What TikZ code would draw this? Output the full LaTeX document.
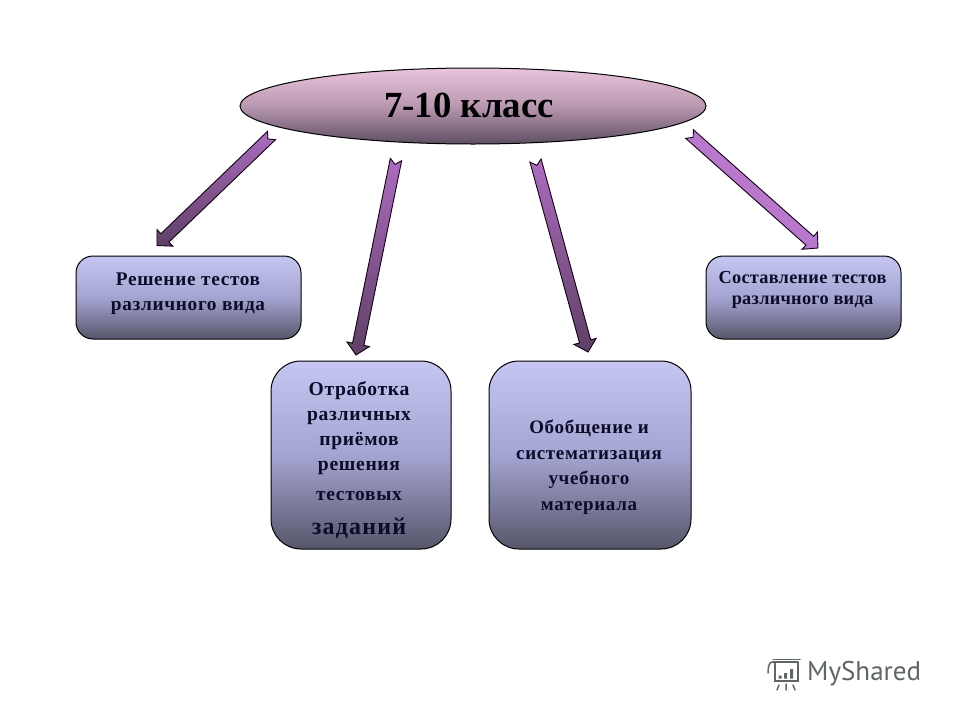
\documentclass[tikz,border=0pt]{standalone}
\usepackage{fontspec}
\usetikzlibrary{calc}
\setmainfont{Liberation Serif}[BoldFont={Liberation Serif Bold}]
\newfontfamily\spaced{Liberation Serif Bold}[LetterSpace=5]
\newfontfamily\tight{Liberation Serif Bold}[LetterSpace=3.5]
\newfontfamily\narrowtext{Liberation Serif Bold}[LetterSpace=1.5]
\newfontfamily\logofont{PT Sans}
\definecolor{ink}{HTML}{0B0B2A}
\definecolor{boxtop}{HTML}{C6C6F2}
\definecolor{boxmid}{HTML}{A4A4D2}
\definecolor{boxbot}{HTML}{56566A}
\definecolor{elltop}{HTML}{EAC4DC}
\definecolor{ellmid}{HTML}{B898B0}
\definecolor{ellbot}{HTML}{5E4E62}
\definecolor{arrowA}{HTML}{AC6CBE}
\definecolor{arrowAb}{HTML}{5E4066}
\definecolor{arrowB}{HTML}{B878CC}
\definecolor{logogray}{HTML}{5F6664}
\tikzset{
  x=1pt,y=-1pt,
  panel/.style={draw=black,line width=1pt,top color=boxtop,bottom color=boxbot,middle color=boxmid,inner sep=0pt,anchor=north west},
  boxtext/.style={text=ink,align=center,inner sep=0pt},
  barrow/.style={draw=black!85!violet,line width=0.9pt,line join=miter},
  darkarrow/.style={barrow,top color=arrowA,bottom color=arrowAb},
}
\newcommand{\arrowpath}[2]{%
  ($(#1)!5.8pt!90:(#2)$) -- ($(#1)!5pt!(#2)$) -- ($(#1)!5.8pt!-90:(#2)$)
  -- ($(neck)!5.8pt!-90:(#2)$) -- ($(neck)!11.5pt!-90:(#2)$) -- (#2)
  -- ($(neck)!11.5pt!90:(#2)$) -- ($(neck)!5.8pt!90:(#2)$) -- cycle
}
\newcommand{\blockarrow}[2]{%
  \coordinate (neck) at ($(#2)!11pt!(#1)$);
  \draw[darkarrow] \arrowpath{#1}{#2};
}
\begin{document}
\begin{tikzpicture}
\useasboundingbox (0,0) rectangle (960,720);
\fill[white] (0,0) rectangle (960,720);
% top ellipse
\path[draw=black,line width=1pt,top color=elltop,bottom color=ellbot,middle color=ellmid]
  (473,106) ellipse [x radius=233,y radius=38];
\node[inner sep=0pt,text=black,font=\bfseries\fontsize{36.8}{40}\selectfont] (head) at (469,105) {7-10 класс};
% boxes
\node[panel,rounded corners=17,minimum width=225,minimum height=83] (b1) at (75.5,255.5) {};
\node[panel,rounded corners=17,minimum width=195,minimum height=83] (b4) at (705.5,255.5) {};
\node[panel,rounded corners=30,minimum width=180,minimum height=188] (b2) at (270.5,360.5) {};
\node[panel,rounded corners=30,minimum width=202,minimum height=188] (b3) at (488.5,360.5) {};
% texts
\node[boxtext,font=\tight\fontsize{19.3}{25}\selectfont] (t1) at (188,293.5) {Решение тестов\\различного вида};
\node[boxtext,font=\narrowtext\fontsize{18.3}{21}\selectfont] (t4) at (802.5,289.5) {Составление тестов\\различного вида};
\node[boxtext,font=\tight\fontsize{19.6}{25}\selectfont] (t2) at (359,428) {Отработка\\различных\\приёмов\\решения};
\node[boxtext,font=\tight\fontsize{19.4}{20}\selectfont] (t2b) at (359,496) {тестовых};
\node[boxtext,font=\spaced\fontsize{24}{24}\selectfont] (t2c) at (359,528) {заданий};
\node[boxtext,font=\tight\fontsize{19}{25.5}\selectfont] (t3) at (589,467) {Обобщение и\\систематизация\\учебного\\материала};
% arrows
\coordinate (a1) at (271.5,135.5); \coordinate (e1) at (157,245.5);
\coordinate (a2) at (396,159.5);   \coordinate (e2) at (356,355);
\coordinate (a3) at (535.5,160.5); \coordinate (e3) at (588,352);
\coordinate (a4) at (689.5,134);   \coordinate (e4) at (818,248);
\blockarrow{a1}{e1}
\blockarrow{a2}{e2}
\blockarrow{a3}{e3}
\coordinate (neck) at ($(e4)!11pt!(a4)$);
\draw[barrow,fill=arrowB] \arrowpath{a4}{e4};
% logo
\begin{scope}[draw=logogray,line width=1.5pt,line cap=round]
  \draw (773,662) -- (798,662) (775,662) -- (775,681) -- (798,681) -- (798,662);
  \draw (773,662) .. controls (768,660) and (768,672) .. (768,673);
  \draw (773,659.5) -- (800,659.5);
  \draw (779,685) -- (777,690) (786,684) -- (786,690) (793,685) -- (795,690);
  \fill[logogray] (778.5,675.5) rectangle +(3,3) (784,673) rectangle +(3,5.5) (790,669) rectangle +(3,9.5);
\end{scope}
\node[text=logogray,inner sep=0pt,anchor=west,font=\logofont\fontsize{27}{30}\selectfont] (logo) at (807,674) {MyShared};
\end{tikzpicture}
\end{document}
